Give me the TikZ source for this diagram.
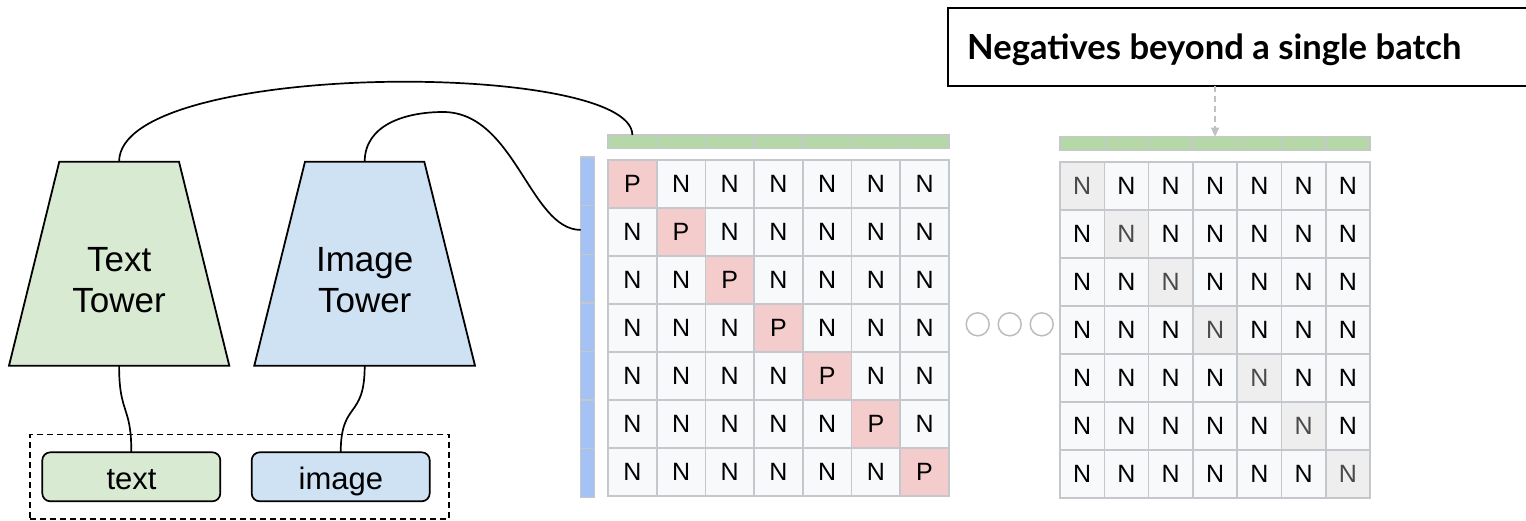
\documentclass[tikz,border=0pt]{standalone}
\usepackage{fontspec}
\setmainfont{Liberation Sans}
\newfontfamily\headfont{Lato}
\usetikzlibrary{arrows.meta,calc}

\definecolor{greenfill}{HTML}{D9EAD3}
\definecolor{bluefill}{HTML}{CFE2F3}
\definecolor{greenbar}{HTML}{B6D7A8}
\definecolor{bluebar}{HTML}{A4C2F4}
\definecolor{posfill}{HTML}{F4CCCC}
\definecolor{negfill}{HTML}{F8F9FA}
\definecolor{gridline}{HTML}{C4C7CC}
\definecolor{diagfill}{HTML}{EEEEEE}
\definecolor{diagtext}{HTML}{4A4A4A}
\definecolor{dotline}{HTML}{BDBDBD}
\definecolor{hintline}{HTML}{BDC1C6}

\begin{document}
\begin{tikzpicture}[x=1pt,y=-1pt,
  wire/.style={line width=1.7pt, black},
  towerbody/.style={draw=black, line width=1.8pt, line join=miter},
  towerlabel/.style={font=\fontsize{35}{41.6}\selectfont, align=center, inner sep=0pt},
  inbox/.style={draw=black, line width=1.7pt, rounded corners=8pt, minimum width=178pt,
    minimum height=49pt, inner sep=0pt, outer sep=0pt, anchor=north west},
  inlabel/.style={font=\fontsize{31}{36}\selectfont, anchor=base, inner sep=0pt},
  inputframe/.style={draw=black, line width=1.6pt, dash pattern=on 6pt off 4pt,
    anchor=north west, inner sep=0pt, outer sep=0pt},
  cell/.style={draw=gridline, line width=1.6pt, minimum height=48pt, inner sep=0pt,
    outer sep=0pt, font=\fontsize{25}{30}\selectfont},
  barcell/.style={draw=gridline, line width=1.4pt, inner sep=0pt, outer sep=0pt},
  dot/.style={circle, draw=dotline, line width=1.5pt, fill=white, minimum size=23pt,
    inner sep=0pt},
  notebox/.style={draw=black, line width=1.8pt, anchor=north west, inner sep=0pt,
    outer sep=0pt},
  hint/.style={draw=hintline, line width=1.6pt, dash pattern=on 6pt off 4pt,
    -{Triangle[length=9pt,width=8pt,fill=hintline]}}
]
\useasboundingbox (0,0) rectangle (1526,520);
\clip (0,0) rectangle (1526,520);

% ---------- the two towers ----------
\draw[towerbody, fill=greenfill] (59.3,161.7) -- (179,161.7) -- (229.3,365.7) -- (9,365.7) -- cycle;
\coordinate (tt-top) at (119.1,161.7);
\coordinate (tt-bot) at (119.1,365.7);
\node[towerlabel] (ttl) at (119.1,280) {Text\\Tower};

\draw[towerbody, fill=bluefill] (305,161.7) -- (424.3,161.7) -- (475,365.7) -- (254.3,365.7) -- cycle;
\coordinate (it-top) at (364.7,161.7);
\coordinate (it-bot) at (364.7,365.7);
\node[towerlabel] (itl) at (364.7,280) {Image\\Tower};

% ---------- inputs ----------
\node[inputframe, minimum width=419pt, minimum height=84.5pt] (inputs) at (30,434.3) {};
\node[inbox, fill=greenfill] (txt) at (42.3,452.3) {};
\node[inlabel] (txtl) at (131.5,489) {text};
\node[inbox, fill=bluefill] (img) at (251.7,452.3) {};
\node[inlabel] (imgl) at (340.9,489) {image};

% ---------- in-batch similarity matrix ----------
\foreach \j in {1,...,7}{
  \node[barcell, fill=greenbar, minimum width=48.7pt, minimum height=13.4pt]
    (ga-\j) at ({608+(\j-0.5)*48.7},141.7) {};
}
\foreach \i in {1,...,7}{
  \node[barcell, fill=bluebar, minimum width=13.6pt, minimum height=48.6pt]
    (ba-\i) at (587.5,{157+(\i-0.5)*48.6}) {};
}
\foreach \i in {1,...,7}{
  \foreach \j in {1,...,7}{
    \ifnum\i=\j \def\cf{posfill}\def\ct{P}\else\def\cf{negfill}\def\ct{N}\fi
    \node[cell, minimum width=48.7pt, fill=\cf] (ma-\i-\j)
      at ({608+(\j-0.5)*48.7},{160+(\i-0.5)*48}) {\ct};
  }
}

% ---------- ellipsis ----------
\node[dot] (d1) at (977.7,324.3) {};
\node[dot] (d2) at (1009.7,324.3) {};
\node[dot] (d3) at (1041.7,324.3) {};

% ---------- matrix of extra negatives ----------
\foreach \j in {1,...,7}{
  \node[barcell, fill=greenbar, minimum width=44.3pt, minimum height=14pt]
    (gb-\j) at ({1060+(\j-0.5)*44.3},143.7) {};
}
\foreach \i in {1,...,7}{
  \foreach \j in {1,...,7}{
    \ifnum\i=\j \def\cf{diagfill}\def\tc{diagtext}\else\def\cf{negfill}\def\tc{black}\fi
    \node[cell, minimum width=44.3pt, fill=\cf, text=\tc] (mb-\i-\j)
      at ({1060+(\j-0.5)*44.3},{162+(\i-0.5)*48}) {N};
  }
}

% ---------- note ----------
\node[notebox, minimum width=650pt, minimum height=77.7pt] (note) at (948,8.3) {};
\node[font=\headfont\bfseries\fontsize{34.6}{40}\selectfont, anchor=base west, inner sep=0pt]
  (notel) at (967,59) {Negatives beyond a single batch};
\draw[hint] (note.south -| gb-4.north) -- (gb-4.north);

% ---------- connectors ----------
\draw[wire] (tt-top) .. controls (119.1,60) and (632.4,60) .. (ga-1.north);
\draw[wire] (it-top) .. controls (364.7,125) and (405,112) .. (443,112)
  .. controls (515,112) and (530,229.9) .. (ba-2.west);
\draw[wire] (tt-bot) .. controls (119.1,415) and (131.5,405) .. (txt.north);
\draw[wire] (it-bot) .. controls (364.7,420) and (340.9,400) .. (img.north);
\end{tikzpicture}
\end{document}
